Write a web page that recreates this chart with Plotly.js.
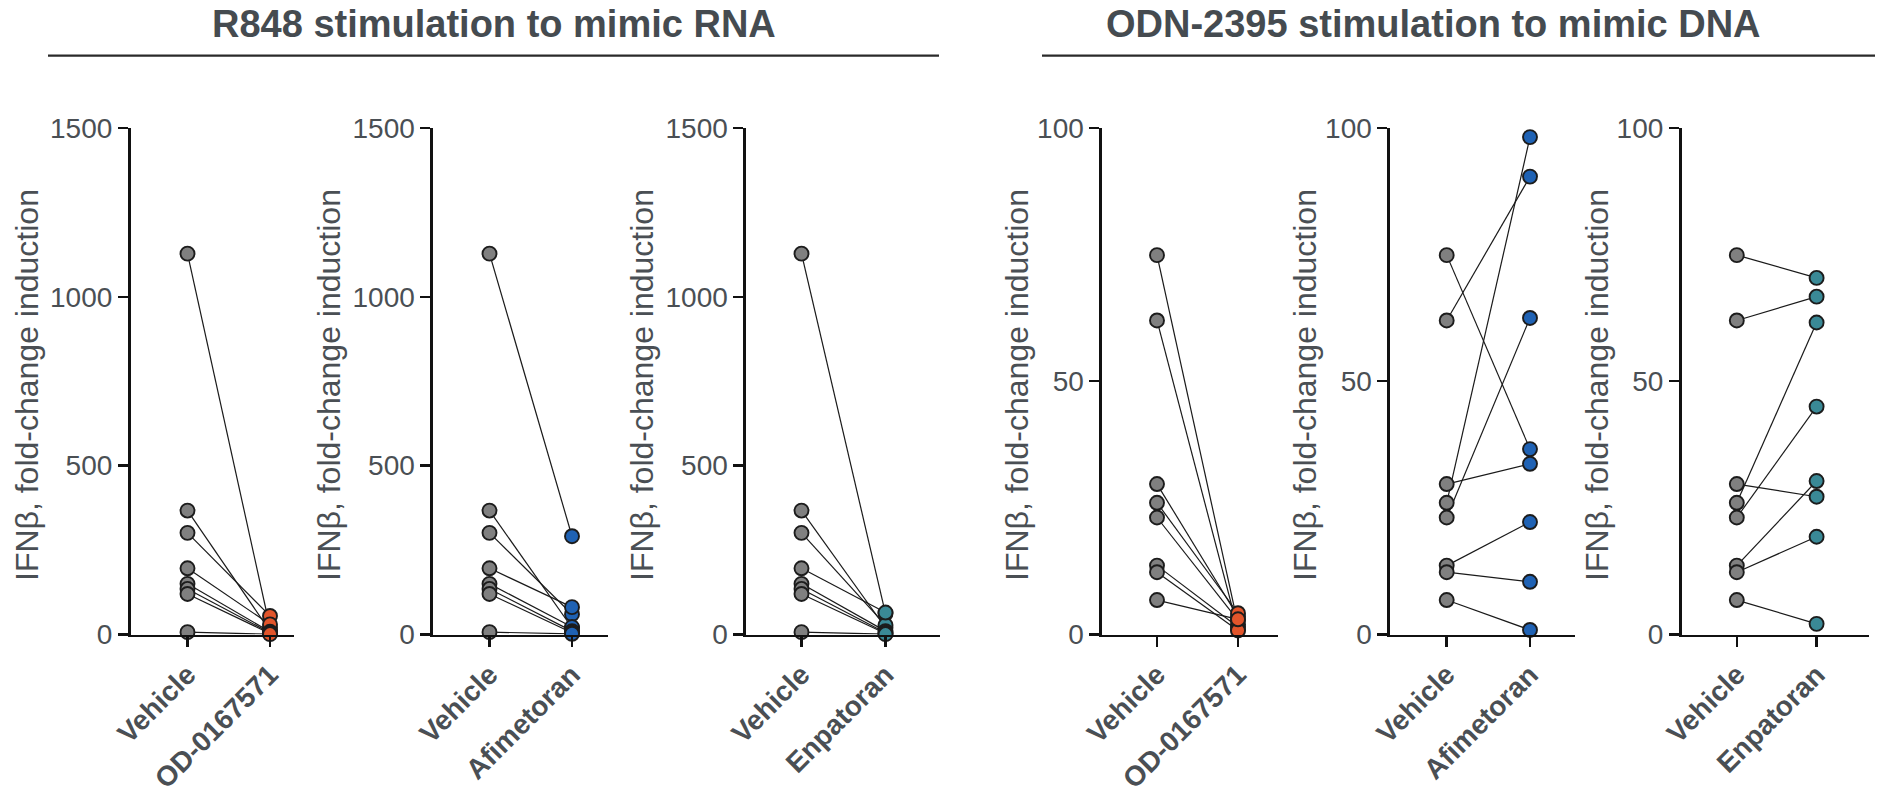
<!DOCTYPE html>
<html>
<head>
<meta charset="utf-8">
<script src="https://cdn.plot.ly/plotly-3.0.1.min.js"></script>
<style>html,body{margin:0;padding:0;background:#fff;}#chart{width:1895px;height:796px;}</style>
</head>
<body>
<div id="chart"></div>
<script>
// ---------------- data ----------------
const groupTitles = ["R848 stimulation to mimic RNA", "ODN-2395 stimulation to mimic DNA"];
const yAxisTitle = "IFNβ, fold-change induction";
const vehicleLabel = "Vehicle";
const drugLabels = ["OD-0167571", "Afimetoran", "Enpatoran", "OD-0167571", "Afimetoran", "Enpatoran"];

const rnaTicks = [0, 500, 1000, 1500];
const dnaTicks = [0, 50, 100];

// R848 (RNA) – same vehicle donors in the three panels
const rnaVehicle     = [1128, 367, 301, 196, 150, 135, 120, 7];
const rnaOD0167571   = [20, 10, 55, 30, 8, 5, 3, 1];
const rnaAfimetoran  = [291, 20, 60, 81, 22, 10, 5, 2];
const rnaEnpatoran   = [62, 20, 28, 65, 10, 5, 3, 1];

// ODN-2395 (DNA)
const dnaVehicle     = [74.9, 62.0, 29.7, 26.0, 23.1, 13.6, 12.3, 6.8];
const dnaOD0167571   = [2.0, 1.0, 3.5, 4.2, 2.8, 1.5, 0.8, 3.0];
const dnaAfimetoran  = [36.6, 90.4, 33.7, 98.2, 62.5, 22.2, 10.4, 0.9];
const dnaEnpatoran   = [70.4, 66.7, 27.2, 61.6, 45.0, 30.3, 19.3, 2.1];

// ---------------- styling / layout ----------------
const W = 1895, H = 796;
const COL_VEH = "#808080";
const COL_OD = "#e2552b";
const COL_AFI = "#1f62b4";
const COL_ENP = "#3a8996";
const TXT = "#4a4f54";
const FONT = "Liberation Sans, Arial, Helvetica, sans-serif";

// pixel geometry: [axis start, vehicle x, drug x, axis end, y-title x]
const panels = [
  {veh: rnaVehicle, drug: rnaOD0167571,  col: COL_OD,  ticks: rnaTicks, ymax: 1500, px: [130.5, 187.5, 270, 294, 27]},
  {veh: rnaVehicle, drug: rnaAfimetoran, col: COL_AFI, ticks: rnaTicks, ymax: 1500, px: [433, 489.5, 572, 608, 329]},
  {veh: rnaVehicle, drug: rnaEnpatoran,  col: COL_ENP, ticks: rnaTicks, ymax: 1500, px: [746, 801.5, 885.5, 940, 642]},
  {veh: dnaVehicle, drug: dnaOD0167571,  col: COL_OD,  ticks: dnaTicks, ymax: 100,  px: [1102, 1157, 1238, 1277.5, 1017]},
  {veh: dnaVehicle, drug: dnaAfimetoran, col: COL_AFI, ticks: dnaTicks, ymax: 100,  px: [1390, 1446.7, 1530, 1575, 1305]},
  {veh: dnaVehicle, drug: dnaEnpatoran,  col: COL_ENP, ticks: dnaTicks, ymax: 100,  px: [1681.5, 1736.8, 1816.6, 1869, 1597]}
];

const yTopPx = 128, yBotPx = 634.5;
const yDomain = [(H - yBotPx) / H, (H - yTopPx) / H];

const traces = [];
const layout = {
  width: W, height: H,
  margin: {l: 0, r: 0, t: 0, b: 0},
  paper_bgcolor: "#ffffff", plot_bgcolor: "rgba(0,0,0,0)",
  showlegend: false,
  font: {family: FONT, color: TXT},
  annotations: [], shapes: []
};

panels.forEach((p, i) => {
  const n = i + 1;
  const xa = "x" + (n === 1 ? "" : n), ya = "y" + (n === 1 ? "" : n);
  const xkey = "xaxis" + (n === 1 ? "" : n), ykey = "yaxis" + (n === 1 ? "" : n);
  const [a0, vx, dx, a1, tx] = p.px;
  const u = dx - vx;

  // connecting lines
  const lx = [], ly = [];
  p.veh.forEach((v, k) => { lx.push(0, 1, null); ly.push(v, p.drug[k], null); });
  traces.push({x: lx, y: ly, xaxis: xa, yaxis: ya, type: "scatter", mode: "lines",
    line: {color: "#1a1a1a", width: 1.2}, hoverinfo: "skip", cliponaxis: false});
  traces.push({x: p.veh.map(() => 0), y: p.veh, xaxis: xa, yaxis: ya, type: "scatter", mode: "markers",
    marker: {size: 14, color: COL_VEH, line: {color: "#1c1c1c", width: 1.9}}, cliponaxis: false});
  traces.push({x: p.drug.map(() => 1), y: p.drug, xaxis: xa, yaxis: ya, type: "scatter", mode: "markers",
    marker: {size: 14, color: p.col, line: {color: "#1c1c1c", width: 1.9}}, cliponaxis: false});

  layout[xkey] = {
    domain: [a0 / W, a1 / W], anchor: ya,
    range: [(a0 - vx) / u, (a1 - vx) / u],
    tickvals: [0, 1], ticktext: [vehicleLabel, drugLabels[i]], tickangle: -45,
    tickfont: {family: FONT, size: 28, color: TXT, weight: "bold"},
    showline: true, linecolor: "#111", linewidth: 2.6, mirror: false,
    ticks: "outside", ticklen: 10, tickwidth: 2.4, tickcolor: "#111",
    showgrid: false, zeroline: false, fixedrange: true
  };
  layout[ykey] = {
    domain: yDomain, anchor: xa,
    range: [0, p.ymax], tickvals: p.ticks,
    tickfont: {family: FONT, size: 28, color: TXT},
    showline: true, linecolor: "#111", linewidth: 2.6,
    ticks: "outside", ticklen: 10, tickwidth: 2.4, tickcolor: "#111",
    showgrid: false, zeroline: false, fixedrange: true
  };
  layout.annotations.push({
    text: yAxisTitle, textangle: -90, xref: "paper", yref: "paper",
    x: tx / W, y: (H - 385) / H, xanchor: "center", yanchor: "middle",
    showarrow: false, font: {family: FONT, size: 32, color: TXT}
  });
});

// group headers
const headers = [
  {text: groupTitles[0], cx: 494, l0: 48, l1: 939},
  {text: groupTitles[1], cx: 1433, l0: 1042, l1: 1875}
];
headers.forEach(h => {
  layout.annotations.push({
    text: "<b>" + h.text + "</b>", xref: "paper", yref: "paper",
    x: h.cx / W, y: (H - 24) / H, xanchor: "center", yanchor: "middle",
    showarrow: false, font: {family: FONT, size: 38, color: "#454b50"}
  });
  layout.shapes.push({type: "line", xref: "paper", yref: "paper",
    x0: h.l0 / W, x1: h.l1 / W, y0: (H - 55.6) / H, y1: (H - 55.6) / H,
    line: {color: "#2a2a2a", width: 2.2}});
});

Plotly.newPlot("chart", traces, layout, {displayModeBar: false, staticPlot: true});
</script>
</body>
</html>
